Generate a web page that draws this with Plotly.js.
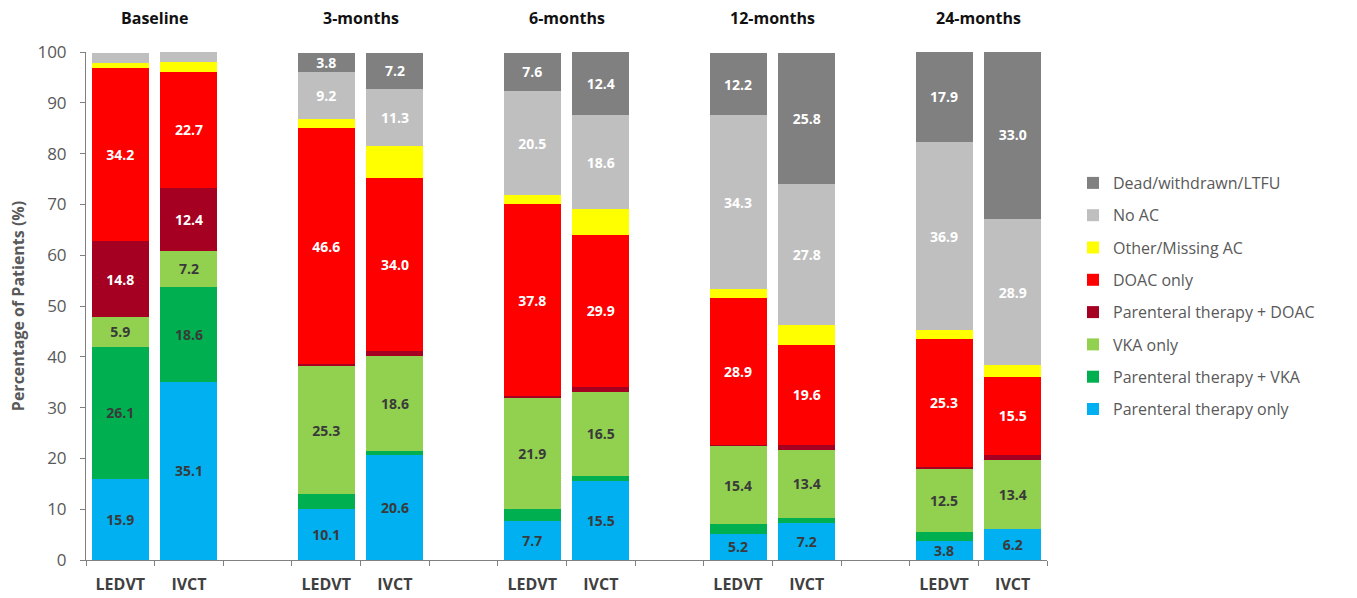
<!DOCTYPE html>
<html>
<head>
<meta charset="utf-8">
<script src="https://cdn.plot.ly/plotly-3.0.1.min.js"></script>
<style>html,body{margin:0;padding:0;background:#fff;}#chart{width:1357px;height:598px;}</style>
</head>
<body>
<div id="chart"></div>
<script>
// Groups and cohorts
const groups = ["Baseline", "3-months", "6-months", "12-months", "24-months"];
const cohorts = ["LEDVT", "IVCT"];

// Series values, order: Baseline LEDVT, Baseline IVCT, 3m LEDVT, 3m IVCT, 6m ..., 12m ..., 24m ...
const parenteralOnly = [15.9, 35.1, 10.1, 20.6, 7.7, 15.5, 5.2, 7.2, 3.8, 6.2];
const parenteralVKA  = [26.1, 18.6, 2.8, 0.9, 2.3, 1.1, 1.8, 1.1, 1.7, 0.0];
const vkaOnly        = [5.9, 7.2, 25.3, 18.6, 21.9, 16.5, 15.4, 13.4, 12.5, 13.4];
const parenteralDOAC = [14.8, 12.4, 0.3, 1.0, 0.3, 1.0, 0.3, 1.0, 0.3, 1.0];
const doacOnly       = [34.2, 22.7, 46.6, 34.0, 37.8, 29.9, 28.9, 19.6, 25.3, 15.5];
const otherMissing   = [1.0, 2.1, 1.8, 6.3, 1.8, 5.0, 1.7, 4.0, 1.7, 2.2];
const noAC           = [2.0, 1.9, 9.2, 11.3, 20.5, 18.6, 34.3, 27.8, 36.9, 28.9];
const dead           = [0.0, 0.0, 3.8, 7.2, 7.6, 12.4, 12.2, 25.8, 17.9, 33.0];

const seriesNames = ["Parenteral therapy only", "Parenteral therapy + VKA", "VKA only",
  "Parenteral therapy + DOAC", "DOAC only", "Other/Missing AC", "No AC", "Dead/withdrawn/LTFU"];
const seriesValues = [parenteralOnly, parenteralVKA, vkaOnly, parenteralDOAC, doacOnly, otherMissing, noAC, dead];
const seriesColors = ["#00B0F0", "#00B050", "#92D050", "#A50021", "#FF0000", "#FFFF00", "#BFBFBF", "#808080"];
const labelColors  = ["#3a3a3a", "#3a3a3a", "#3a3a3a", "#ffffff", "#ffffff", "#3a3a3a", "#ffffff", "#ffffff"];
const showLabels   = [true, true, true, true, true, false, true, true];

// Build category axis (with a blank slot between groups)
const categories = [];
const tickText = [];
const barCats = [];
groups.forEach((g, gi) => {
  cohorts.forEach(c => {
    const key = g + " " + c;
    categories.push(key); tickText.push(c); barCats.push(key);
  });
  if (gi < groups.length - 1) { categories.push("gap" + gi); tickText.push(""); }
});

const traces = seriesNames.map((name, i) => ({
  type: "bar",
  name: name,
  x: barCats,
  y: seriesValues[i],
  marker: { color: seriesColors[i], line: { width: 0 } },
  text: seriesValues[i].map(v => (showLabels[i] && v >= 3.5) ? v.toFixed(1) : ""),
  texttemplate: "%{text}",
  textposition: "inside",
  insidetextanchor: "middle",
  textangle: 0,
  constraintext: "none",
  insidetextfont: { family: "Open Sans, sans-serif", size: 14, color: labelColors[i], weight: 700 },
  hoverinfo: "name+y",
  legendgroup: "g" + i,
  legendrank: 100 - i
}));

const annotations = groups.map((g, gi) => ({
  text: "<b>" + g + "</b>",
  xref: "x", yref: "paper",
  x: gi * 3 + 0.5, y: 1 + (52 - 18) / 508,
  xanchor: "center", yanchor: "middle",
  showarrow: false,
  font: { family: "Open Sans, sans-serif", size: 16, color: "#111111" }
}));

const layout = {
  width: 1357, height: 598,
  margin: { l: 86, r: 310, t: 52, b: 38 },
  paper_bgcolor: "#ffffff", plot_bgcolor: "#ffffff",
  barmode: "stack",
  bargap: 0.17,
  showlegend: true,
  legend: {
    traceorder: "grouped",
    xref: "container", yref: "container",
    x: 1073 / 1357, y: 1 - 166 / 598,
    xanchor: "left", yanchor: "top",
    font: { family: "Open Sans, sans-serif", size: 16, color: "#595959" },
    tracegroupgap: 8.5,
    itemclick: false
  },
  xaxis: {
    type: "category",
    categoryorder: "array",
    categoryarray: categories,
    range: [-0.5, categories.length - 0.5],
    tickmode: "array",
    tickvals: categories,
    ticktext: tickText,
    tickson: "boundaries",
    ticks: "outside", ticklen: 5, tickcolor: "#808080",
    ticklabelstandoff: 10,
    showline: true, linecolor: "#808080", linewidth: 1,
    showgrid: false, zeroline: false,
    tickfont: { family: "Open Sans, sans-serif", size: 16, color: "#404040", weight: 700 }
  },
  yaxis: {
    range: [0, 100],
    tickmode: "array",
    tickvals: [0, 10, 20, 30, 40, 50, 60, 70, 80, 90, 100],
    ticks: "outside", ticklen: 5, tickcolor: "#808080",
    ticklabelstandoff: 10,
    showline: true, linecolor: "#808080", linewidth: 1,
    showgrid: false, zeroline: false,
    tickfont: { family: "Open Sans, sans-serif", size: 17, color: "#595959" },
    title: { text: "<b>Percentage of Patients (%)</b>", font: { family: "Open Sans, sans-serif", size: 16, color: "#595959" }, standoff: 8 }
  },
  annotations: annotations
};

Plotly.newPlot("chart", traces, layout, { displayModeBar: false, staticPlot: true });
</script>
</body>
</html>
